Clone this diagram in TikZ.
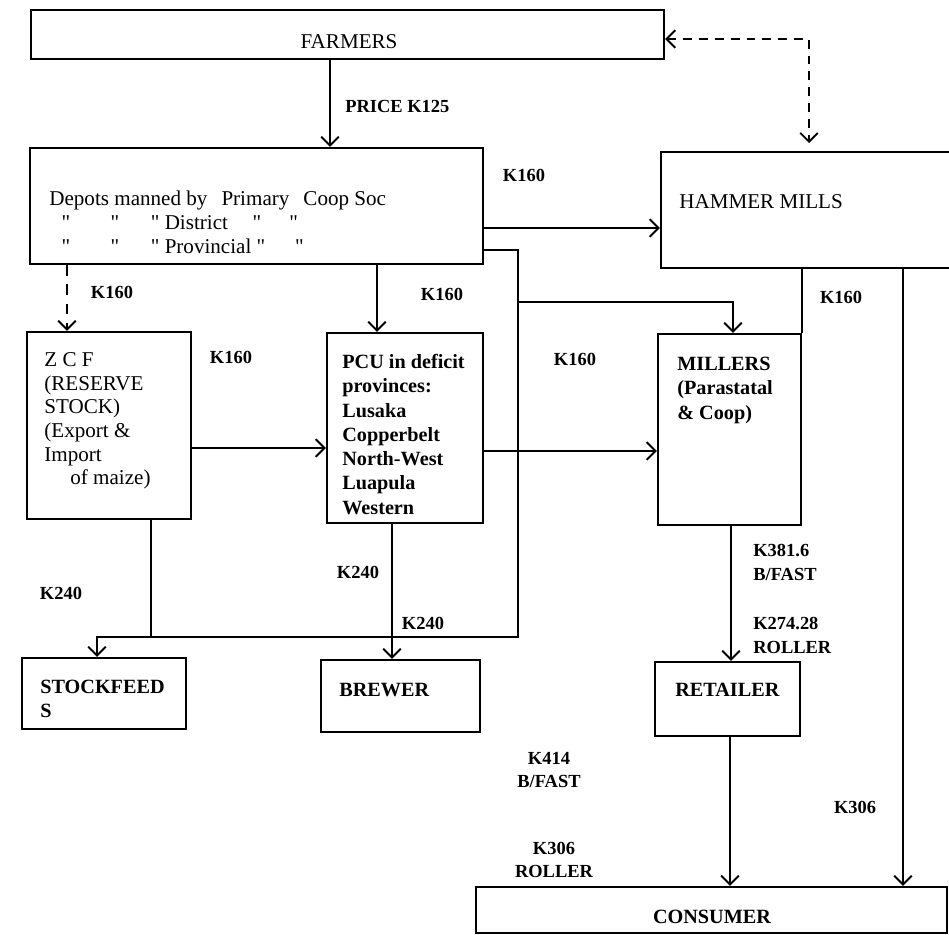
\documentclass[tikz,border=0pt]{standalone}
\usepackage{fontspec}
\setmainfont{Liberation Serif}
\usepackage{tikz}
\usetikzlibrary{arrows.meta,fit}

\newcommand{\ditto}{\textquotedbl}

\begin{document}
\begin{tikzpicture}[x=0.02cm,y=-0.02cm,
		box/.style={draw,line width=1.3pt,inner sep=0pt},
		wire/.style={line width=1.3pt},
		flow/.style={line width=1.3pt,-{Straight Barb[length=5pt,width=10pt,line width=1.1pt]}},
		dflow/.style={line width=1.3pt,dash pattern=on 5pt off 4pt,{Straight Barb[length=5pt,width=10pt,line width=1.1pt]}-{Straight Barb[length=5pt,width=10pt,line width=1.1pt]}},
		txt/.style={font=\fontsize{12}{13.5}\selectfont,align=left,inner sep=0pt},
		btxt/.style={font=\fontsize{11.5}{13.8}\selectfont\bfseries,align=left,inner sep=0pt},
		price/.style={font=\fontsize{10.5}{13.5}\selectfont\bfseries,inner sep=0pt}]
		\useasboundingbox (0,0) rectangle (949,934);
		
		\node[box,fit={(31,10) (664,59)}] (farmers) {};
		\node[box,fit={(30,148) (483,264)}] (depots) {};
		\node[box,fit={(661,152) (953,268)}] (hammer) {};
		\node[box,fit={(27,332) (191,519)}] (zcf) {};
		\node[box,fit={(327,333) (483,523)}] (pcu) {};
		\node[box,fit={(658,334) (801,525)}] (millers) {};
		\node[box,fit={(22,658) (186,729)}] (stockfeeds) {};
		\node[box,fit={(321,660) (480,732)}] (brewer) {};
		\node[box,fit={(655,662) (800,736)}] (retailer) {};
		\node[box,fit={(476,887) (947,933)}] (consumer) {};
		
		\node[txt] (farmerstxt) at (349,42) {FARMERS};
		\node[txt,anchor=north west] (depotstxt) at (49,191) {Depots manned by\hspace{5pt} Primary\hspace{5pt} Coop Soc\\
		\hspace*{7pt}\ditto\hspace{23pt}\ditto\hspace{18pt}\ditto{} District\hspace{14pt}\ditto\hspace{16pt}\ditto\\
		\hspace*{7pt}\ditto\hspace{23pt}\ditto\hspace{18pt}\ditto{} Provincial\hspace{3pt}\ditto\hspace{17pt}\ditto};
		\node[txt,anchor=west] (hammertxt) at (679,202) {HAMMER MILLS};
		\node[txt,anchor=north west] (zcftxt) at (44,352) {Z C F\\(RESERVE\\STOCK)\\(Export \&\\Import\\\hspace*{0.52cm}of maize)};
		\node[btxt,anchor=north west] (pcutxt) at (342,354) {PCU in deficit\\provinces:\\Lusaka\\Copperbelt\\North-West\\Luapula\\Western};
		\node[btxt,anchor=north west] (millerstxt) at (677,357) {MILLERS\\(Parastatal\\\& Coop)};
		\node[btxt,anchor=north west] (stocktxt) at (40,680) {STOCKFEED\\S};
		\node[btxt,anchor=north west] (brewertxt) at (339,683) {BREWER};
		\node[btxt,anchor=north west] (retailertxt) at (675,683) {RETAILER};
		\node[btxt] (consumertxt) at (712,917) {CONSUMER};
		
		\node[price,anchor=west] (p125) at (345,106) {PRICE K125};
		\node[price] (k1) at (524,175) {K160};
		\node[price] (k2) at (112,292) {K160};
		\node[price] (k3) at (442,294) {K160};
		\node[price] (k4) at (841,297) {K160};
		\node[price] (k5) at (231,357) {K160};
		\node[price] (k6) at (575,359) {K160};
		\node[price] (k7) at (61,593) {K240};
		\node[price] (k8) at (358,572) {K240};
		\node[price] (k9) at (423,623) {K240};
		\node[price,align=left,anchor=north west] (k10) at (753,544) {K381.6\\B/FAST};
		\node[price,align=left,anchor=north west] (k11) at (753,617) {K274.28\\ROLLER};
		\node[price,align=center] (k12) at (549,770) {K414\\B/FAST};
		\node[price,align=center] (k13) at (554,860) {K306\\ROLLER};
		\node[price] (k14) at (855,807) {K306};
		
		\draw[flow] (330,0 |- farmers.south) -- (330,0 |- depots.north);
		\draw[dflow] (farmers.east |- 0,39) -- (809,39) -- (809,143);
		\draw[flow] (depots.east |- 0,228) -- (hammer.west |- 0,228);
		\draw[flow] (depots.east |- 0,250) -| (518,637) -| (97,0 |- stockfeeds.north);
		\draw[flow] (518,302) -| (733,0 |- millers.north);
		\draw[flow] (377,0 |- depots.south) -- (377,0 |- pcu.north);
		\draw[flow,dash pattern=on 6pt off 5pt] (67,0 |- depots.south) -- (67,0 |- zcf.north);
		\draw[wire] (millers.north east) -- (millers.north east |- hammer.south);
		\draw[flow] (903,0 |- hammer.south) -- (903,0 |- consumer.north);
		\draw[flow] (zcf.east |- 0,448) -- (pcu.west |- 0,448);
		\draw[flow] (pcu.east |- 0,451) -- (millers.west |- 0,451);
		\draw[wire] (151,0 |- zcf.south) -- (151,637);
		\draw[flow] (392,0 |- pcu.south) -- (392,0 |- brewer.north);
		\draw[flow] (731,0 |- millers.south) -- (731,0 |- retailer.north);
		\draw[flow] (730,0 |- retailer.south) -- (730,0 |- consumer.north);
	\end{tikzpicture}
\end{document}
